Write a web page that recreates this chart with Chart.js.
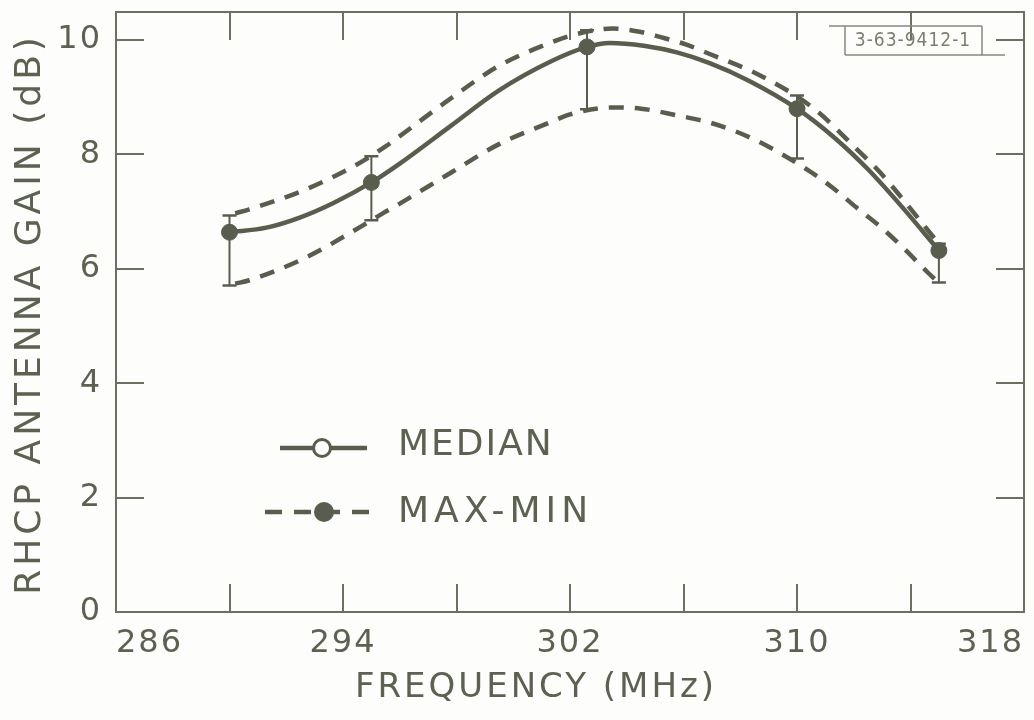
<!DOCTYPE html>
<html>
<head>
<meta charset="utf-8">
<script src="https://cdn.jsdelivr.net/npm/chart.js@4.4.0/dist/chart.umd.min.js"></script>
<style>
  html, body { margin: 0; padding: 0; background: #fdfdfc; }
  #wrap { width: 1034px; height: 720px; }
</style>
</head>
<body>
<div id="wrap"><canvas id="chart" width="1034" height="720"></canvas></div>
<script>
// measured points (MHz, dB)
const freq = [290, 295, 302.6, 310, 315];
const gainMedian = [6.64, 7.51, 9.88, 8.80, 6.32];
const gainMax = [6.93, 7.97, 10.17, 9.03, 6.44];
const gainMin = [5.71, 6.85, 8.79, 7.93, 5.76];

// faired curves
const medianCurveX = [290, 291.3, 292.5, 293.7, 295, 296, 297.8, 299.5, 301.3, 302.6, 303.4, 304.6, 305.8, 306.9, 308.3, 310, 311.3, 312.5, 313.6, 315];
const medianCurveY = [6.64, 6.72, 6.90, 7.16, 7.51, 7.84, 8.50, 9.12, 9.62, 9.88, 9.95, 9.90, 9.78, 9.60, 9.29, 8.80, 8.30, 7.74, 7.14, 6.32];
const maxCurveX = [290.2, 290.7, 292.6, 294.4, 295.5, 296, 297.8, 299.5, 301.3, 302.2, 303.5, 304.4, 305.2, 306.1, 306.9, 308.7, 310.6, 312.15, 312.9, 314.9];
const maxCurveY = [6.97, 7.04, 7.37, 7.80, 8.14, 8.32, 8.98, 9.55, 9.95, 10.10, 10.2, 10.15, 10.05, 9.92, 9.76, 9.38, 8.80, 8.07, 7.70, 6.50];
const minCurveX = [290.2, 290.7, 292.7, 294.5, 295.4, 296, 297.8, 299.5, 301.3, 302, 303.5, 304.5, 305.8, 306.9, 308, 309.05, 310.4, 311.2, 312.1, 313, 313.8, 314.6, 314.9];
const minCurveY = [5.74, 5.80, 6.20, 6.70, 6.97, 7.14, 7.68, 8.18, 8.56, 8.70, 8.82, 8.80, 8.68, 8.56, 8.37, 8.12, 7.72, 7.44, 7.07, 6.71, 6.34, 5.94, 5.80];

const xLabels = [286, 294, 302, 310, 318];
const yLabels = [0, 2, 4, 6, 8, 10];

const ink = '#595d4e';
const textInk = '#5d6152';
const font = '"DejaVu Sans", Verdana, sans-serif';

const pts = (xs, ys) => xs.map((x, i) => ({ x, y: ys[i] }));

// frame, inward ticks, error bars, legend, titles
const paperPlugin = {
  id: 'paper',
  beforeDraw(chart) {
    chart.ctx.letterSpacing = '2px';
  },
  beforeDatasetsDraw(chart) {
    const { ctx, chartArea: a, scales: { x, y } } = chart;
    ctx.save();
    ctx.letterSpacing = '0px';
    ctx.strokeStyle = '#6c7063';
    ctx.lineWidth = 2;
    ctx.strokeRect(a.left, a.top, a.right - a.left, a.bottom - a.top);
    const len = 28;
    ctx.beginPath();
    x.ticks.forEach(t => {
      const px = Math.round(x.getPixelForValue(t.value));
      ctx.moveTo(px, a.bottom); ctx.lineTo(px, a.bottom - len);
      ctx.moveTo(px, a.top); ctx.lineTo(px, a.top + len);
    });
    y.ticks.forEach(t => {
      const py = Math.round(y.getPixelForValue(t.value));
      ctx.moveTo(a.left, py); ctx.lineTo(a.left + len, py);
      ctx.moveTo(a.right, py); ctx.lineTo(a.right - len, py);
    });
    ctx.stroke();

    // error bars
    ctx.strokeStyle = ink;
    freq.forEach((f, i) => {
      const px = x.getPixelForValue(f);
      const top = y.getPixelForValue(gainMax[i]);
      const bot = y.getPixelForValue(gainMin[i]);
      ctx.lineWidth = 2;
      ctx.beginPath();
      ctx.moveTo(px, top); ctx.lineTo(px, bot);
      ctx.stroke();
      ctx.lineWidth = 2.5;
      ctx.beginPath();
      ctx.moveTo(px - 7, top); ctx.lineTo(px + 7, top);
      ctx.moveTo(px - 7, bot); ctx.lineTo(px + 7, bot);
      ctx.stroke();
    });
    ctx.restore();
  },
  afterDraw(chart) {
    const { ctx } = chart;
    ctx.save();
    ctx.fillStyle = textInk;
    ctx.textBaseline = 'middle';

    // axis titles
    ctx.letterSpacing = '3px';
    ctx.font = '34px ' + font;
    ctx.textAlign = 'center';
    ctx.fillText('FREQUENCY (MHz)', 536, 688);
    ctx.save();
    ctx.translate(31, 314);
    ctx.rotate(-Math.PI / 2);
    ctx.letterSpacing = '4px';
    ctx.font = '36px ' + font;
    ctx.fillText('RHCP ANTENNA GAIN (dB)', 0, 0);
    ctx.restore();

    // legend
    ctx.strokeStyle = ink;
    ctx.lineWidth = 4.5;
    ctx.beginPath(); ctx.moveTo(280, 448); ctx.lineTo(367, 448); ctx.stroke();
    ctx.lineWidth = 3;
    ctx.fillStyle = '#fdfdfc';
    ctx.beginPath(); ctx.arc(322, 448, 8.5, 0, Math.PI * 2); ctx.fill(); ctx.stroke();
    ctx.lineWidth = 4.5;
    ctx.setLineDash([17, 12]);
    ctx.beginPath(); ctx.moveTo(265, 512); ctx.lineTo(378, 512); ctx.stroke();
    ctx.setLineDash([]);
    ctx.fillStyle = ink;
    ctx.beginPath(); ctx.arc(324, 512, 10, 0, Math.PI * 2); ctx.fill();

    ctx.fillStyle = textInk;
    ctx.textAlign = 'left';
    ctx.font = '36px ' + font;
    ctx.letterSpacing = '2px';
    ctx.fillText('MEDIAN', 398, 446);
    ctx.letterSpacing = '5px';
    ctx.fillText('MAX-MIN', 398, 513);

    // drawing number stamp
    ctx.strokeStyle = '#85897c';
    ctx.lineWidth = 1.5;
    ctx.beginPath();
    ctx.moveTo(829, 26); ctx.lineTo(982, 26);
    ctx.moveTo(845, 26); ctx.lineTo(845, 55);
    ctx.moveTo(982, 26); ctx.lineTo(982, 55);
    ctx.moveTo(845, 55); ctx.lineTo(1005, 55);
    ctx.stroke();
    ctx.fillStyle = '#7b7f72';
    ctx.font = '19px "DejaVu Sans Condensed", "Liberation Sans Narrow", ' + font;
    ctx.letterSpacing = '1px';
    ctx.textAlign = 'center';
    ctx.fillText('3-63-9412-1', 913, 41);
    ctx.restore();
  }
};

new Chart(document.getElementById('chart'), {
  type: 'scatter',
  data: {
    datasets: [
      {
        label: 'MEDIAN',
        type: 'line',
        data: pts(medianCurveX, medianCurveY),
        borderColor: ink,
        borderWidth: 4.5,
        pointRadius: 0,
        cubicInterpolationMode: 'monotone',
        fill: false
      },
      {
        label: 'MAX',
        type: 'line',
        data: pts(maxCurveX, maxCurveY),
        borderColor: ink,
        borderWidth: 4.5,
        borderDash: [15, 11],
        pointRadius: 0,
        cubicInterpolationMode: 'monotone',
        fill: false
      },
      {
        label: 'MIN',
        type: 'line',
        data: pts(minCurveX, minCurveY),
        borderColor: ink,
        borderWidth: 4.5,
        borderDash: [15, 11],
        pointRadius: 0,
        cubicInterpolationMode: 'monotone',
        fill: false
      },
      {
        label: 'points',
        data: pts(freq, gainMedian),
        backgroundColor: ink,
        borderColor: ink,
        pointRadius: 8,
        showLine: false
      }
    ]
  },
  options: {
    responsive: false,
    animation: false,
    layout: { padding: { top: 12, right: 10, left: 0, bottom: 0 } },
    plugins: { legend: { display: false }, tooltip: { enabled: false } },
    scales: {
      x: {
        type: 'linear',
        min: 286,
        max: 318,
        grid: { display: false, drawTicks: false },
        border: { display: false },
        afterFit: s => { s.height = 108; s.paddingLeft = 0; s.paddingRight = 0; },
        ticks: {
          stepSize: 4,
          autoSkip: false,
          maxRotation: 0,
          align: 'inner',
          padding: 12,
          color: textInk,
          font: { family: font, size: 32 },
          callback: v => xLabels.includes(v) ? String(v) : ''
        }
      },
      y: {
        min: 0,
        max: 10.49,
        grid: { display: false, drawTicks: false },
        border: { display: false },
        afterFit: s => { s.width = 116; s.paddingTop = 0; s.paddingBottom = 0; },
        ticks: {
          stepSize: 2,
          includeBounds: false,
          padding: 14,
          color: textInk,
          font: { family: font, size: 32 },
          callback: v => yLabels.includes(v) ? String(v) : ''
        }
      }
    }
  },
  plugins: [paperPlugin]
});
</script>
</body>
</html>
